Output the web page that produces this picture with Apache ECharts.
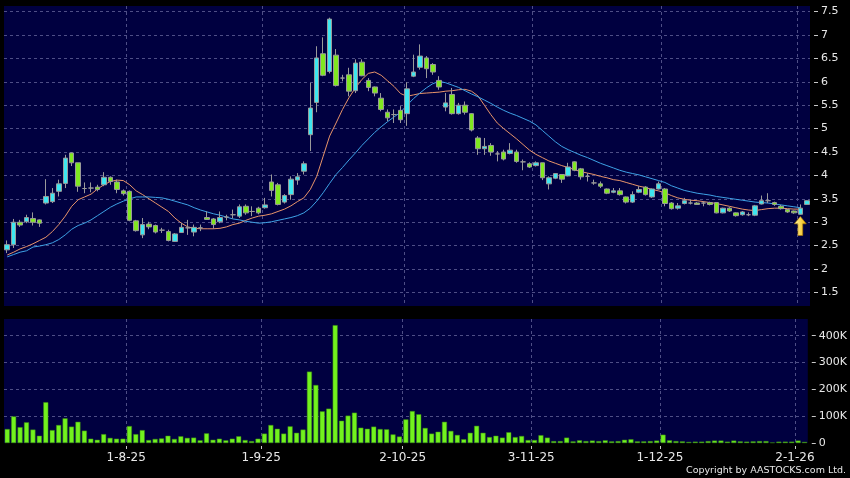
<!DOCTYPE html>
<html><head><meta charset="utf-8">
<script src="https://cdn.jsdelivr.net/npm/echarts@6/dist/echarts.min.js"></script>
<style>html,body{margin:0;padding:0;background:#000;}#c{width:850px;height:478px;}</style>
</head><body><div id="c"></div>
<script>
const dates = [
 '7-7-25','8-7-25','9-7-25','10-7-25','11-7-25','14-7-25','15-7-25','16-7-25','17-7-25','18-7-25','21-7-25','22-7-25','23-7-25','24-7-25','25-7-25','28-7-25','29-7-25','30-7-25','31-7-25',
 '1-8-25','4-8-25','5-8-25','6-8-25','7-8-25','8-8-25','11-8-25','12-8-25','13-8-25','14-8-25','15-8-25','18-8-25','19-8-25','20-8-25','21-8-25','22-8-25','25-8-25','26-8-25','27-8-25','28-8-25','29-8-25',
 '1-9-25','2-9-25','3-9-25','4-9-25','5-9-25','8-9-25','9-9-25','10-9-25','11-9-25','12-9-25','15-9-25','16-9-25','17-9-25','18-9-25','19-9-25','22-9-25','23-9-25','24-9-25','25-9-25','26-9-25','29-9-25','30-9-25',
 '2-10-25','3-10-25','6-10-25','8-10-25','9-10-25','10-10-25','13-10-25','14-10-25','15-10-25','16-10-25','17-10-25','20-10-25','21-10-25','22-10-25','23-10-25','24-10-25','27-10-25','28-10-25','30-10-25','31-10-25',
 '3-11-25','4-11-25','5-11-25','6-11-25','7-11-25','10-11-25','11-11-25','12-11-25','13-11-25','14-11-25','17-11-25','18-11-25','19-11-25','20-11-25','21-11-25','24-11-25','25-11-25','26-11-25','27-11-25','28-11-25',
 '1-12-25','2-12-25','3-12-25','4-12-25','5-12-25','8-12-25','9-12-25','10-12-25','11-12-25','12-12-25','15-12-25','16-12-25','17-12-25','18-12-25','19-12-25','22-12-25','23-12-25','24-12-25','29-12-25','30-12-25','31-12-25',
 '2-1-26','5-1-26'
];
const tickLabels = ['1-8-25','1-9-25','2-10-25','3-11-25','1-12-25','2-1-26'];

const opens = [
 2.41,2.52,3.00,3.01,3.08,3.05,3.41,3.44,3.66,3.83,
 4.48,4.27,3.72,3.73,3.75,3.80,3.96,3.86,3.67,3.66,
 3.03,2.73,2.96,2.93,2.83,2.80,2.59,2.78,2.88,2.79,
 2.88,3.10,3.07,3.01,3.11,3.16,3.13,3.34,3.23,3.30,
 3.31,3.86,3.80,3.43,3.59,3.90,4.09,4.87,5.56,6.60,
 6.22,6.57,6.08,6.15,5.81,6.42,6.03,5.89,5.65,5.35,
 5.30,5.39,5.32,6.12,6.31,6.51,6.37,6.03,5.46,5.73,5.32,
 5.50,5.32,4.80,4.57,4.64,4.46,4.50,4.47,4.50,4.29,
 4.25,4.21,4.27,3.82,3.94,4.02,3.99,4.29,4.14,3.98,
 3.84,3.82,3.71,3.64,3.67,3.54,3.43,3.64,3.75,3.54,
 3.71,3.71,3.41,3.30,3.40,3.41,3.41,3.41,3.42,3.42,
 3.20,3.30,3.20,3.16,3.16,3.15,3.39,3.46,3.42,3.34,
 3.27,3.24,3.17,3.38
];
const closes = [
 2.52,3.00,2.94,3.10,3.00,2.98,3.55,3.62,3.82,4.37,
 4.27,3.77,3.72,3.73,3.70,3.96,3.87,3.70,3.61,3.04,
 2.82,2.95,2.90,2.79,2.83,2.61,2.75,2.89,2.88,2.89,
 2.88,3.06,2.95,3.10,3.11,3.16,3.33,3.20,3.23,3.20,
 3.37,3.68,3.38,3.57,3.92,3.97,4.25,5.44,6.51,6.14,
 7.34,5.92,6.08,5.80,6.40,6.13,5.88,5.76,5.41,5.23,
 5.30,5.19,5.85,6.21,6.55,6.28,6.21,5.89,5.55,5.32,5.50,
 5.35,4.97,4.57,4.62,4.50,4.46,4.35,4.54,4.30,4.29,
 4.18,4.27,3.95,3.95,4.04,3.92,4.18,4.11,3.97,3.98,
 3.84,3.77,3.62,3.67,3.59,3.43,3.59,3.70,3.59,3.71,
 3.82,3.40,3.29,3.35,3.46,3.41,3.38,3.41,3.38,3.20,
 3.30,3.24,3.14,3.22,3.16,3.35,3.46,3.46,3.38,3.29,
 3.22,3.20,3.30,3.46
];
const lows = [
 2.34,2.45,2.90,2.98,2.93,2.90,3.38,3.41,3.55,3.73,
 4.20,3.65,3.62,3.64,3.66,3.77,3.80,3.62,3.57,3.02,
 2.80,2.66,2.85,2.76,2.77,2.59,2.58,2.77,2.73,2.70,
 2.81,3.05,2.86,2.98,3.04,3.08,3.09,3.16,3.13,3.17,
 3.29,3.55,3.36,3.40,3.48,3.80,4.02,4.52,5.35,6.12,
 6.18,5.90,6.01,5.69,5.76,6.12,5.80,5.69,5.37,5.16,
 5.12,5.12,5.06,6.10,6.26,6.08,6.15,5.83,5.37,5.30,5.30,
 5.30,4.94,4.44,4.44,4.42,4.30,4.32,4.45,4.27,4.11,
 4.16,4.19,3.90,3.70,3.92,3.84,3.98,4.09,3.91,3.87,
 3.80,3.73,3.60,3.62,3.57,3.40,3.41,3.62,3.57,3.52,
 3.70,3.34,3.27,3.27,3.38,3.38,3.37,3.34,3.36,3.19,
 3.19,3.22,3.12,3.14,3.13,3.13,3.38,3.41,3.35,3.27,
 3.20,3.18,3.16,3.37
];
const highs = [
 2.61,3.07,3.05,3.16,3.21,3.06,3.92,3.73,3.91,4.44,
 4.49,4.27,3.85,3.85,3.80,4.07,3.98,3.91,3.70,3.68,
 3.05,3.09,3.01,2.95,2.88,2.84,2.77,2.99,3.05,2.95,
 2.95,3.23,3.09,3.23,3.16,3.27,3.38,3.38,3.34,3.33,
 3.52,4.02,3.84,3.60,3.98,4.05,4.30,5.98,6.76,6.95,
 7.37,6.70,6.15,6.30,6.48,6.48,6.08,5.90,5.76,5.41,
 5.41,5.48,5.99,6.58,6.80,6.55,6.40,6.12,5.76,5.87,5.55,
 5.58,5.33,4.84,4.80,4.69,4.52,4.55,4.69,4.55,4.34,
 4.28,4.30,4.27,3.98,4.05,4.03,4.27,4.30,4.16,4.05,
 3.91,3.87,3.72,3.73,3.73,3.55,3.66,3.77,3.77,3.72,
 3.87,3.73,3.43,3.41,3.52,3.48,3.43,3.45,3.44,3.43,
 3.31,3.32,3.21,3.24,3.21,3.37,3.57,3.62,3.44,3.37,
 3.28,3.25,3.38,3.47
];
const ma10 = [
 2.30,2.36,2.43,2.48,2.54,2.61,2.68,2.80,2.95,3.13,
 3.34,3.48,3.54,3.60,3.71,3.80,3.87,3.90,3.89,3.80,
 3.67,3.59,3.50,3.41,3.32,3.23,3.09,2.98,2.90,2.87,
 2.86,2.86,2.86,2.87,2.90,2.95,2.98,3.04,3.09,3.13,
 3.15,3.18,3.23,3.28,3.35,3.44,3.52,3.70,3.98,4.41,
 4.84,5.12,5.41,5.66,5.87,6.05,6.18,6.21,6.14,6.02,
 5.90,5.75,5.69,5.72,5.75,5.76,5.77,5.78,5.80,5.81,5.83,
 5.84,5.80,5.70,5.50,5.30,5.12,5.00,4.89,4.78,4.66,
 4.54,4.45,4.38,4.31,4.26,4.21,4.17,4.12,4.08,4.05,
 4.02,3.98,3.95,3.91,3.89,3.85,3.81,3.77,3.74,3.70,
 3.67,3.63,3.57,3.52,3.49,3.47,3.46,3.44,3.42,3.40,
 3.37,3.34,3.31,3.28,3.26,3.25,3.27,3.29,3.30,3.30,
 3.29,3.28,3.28,'-'
];
const ma20 = [
 2.26,2.31,2.36,2.39,2.47,2.49,2.52,2.56,2.63,2.73,
 2.85,2.93,2.98,3.05,3.14,3.23,3.32,3.39,3.45,3.50,
 3.54,3.54,3.54,3.53,3.52,3.49,3.45,3.41,3.37,3.31,
 3.26,3.22,3.18,3.15,3.11,3.07,3.05,3.02,3.00,2.98,
 2.99,3.01,3.04,3.07,3.10,3.14,3.20,3.30,3.45,3.63,
 3.83,4.02,4.17,4.33,4.48,4.64,4.78,4.92,5.04,5.15,
 5.25,5.35,5.50,5.64,5.76,5.87,5.96,6.01,5.98,5.93,5.88,
 5.81,5.74,5.68,5.61,5.54,5.46,5.39,5.33,5.28,5.22,
 5.16,5.08,4.96,4.84,4.72,4.62,4.55,4.49,4.43,4.38,
 4.32,4.26,4.21,4.16,4.11,4.07,4.04,4.01,3.97,3.93,
 3.89,3.85,3.78,3.73,3.68,3.65,3.62,3.60,3.58,3.55,
 3.53,3.51,3.49,3.47,3.45,3.43,3.42,3.41,3.39,3.37,
 3.35,3.33,3.31,'-'
];
const volumeK = [
 52,99,59,77,50,27,152,48,67,92,
 61,79,46,16,12,33,19,16,16,63,
 33,48,11,15,17,27,15,25,19,20,
 10,36,12,16,10,16,25,11,7,16,
 35,67,53,35,62,38,50,266,216,118,
 128,439,83,102,113,57,53,61,52,51,
 32,24,88,119,107,56,35,42,79,45,30,
 14,38,64,38,22,27,20,40,22,26,
 11,11,29,20,7,7,20,6,10,7,
 9,7,10,6,7,12,14,6,6,7,
 9,31,10,7,6,4,5,5,7,9,
 9,5,9,6,5,6,7,7,2,5,
 5,5,9,4
];
const arrowAt = ['2-1-26', 2.92];

const tickSet = new Set(tickLabels);
const boundaries = dates.concat(['']);
const ohlc = dates.map((d, i) => [opens[i], closes[i], lows[i], highs[i]]);
const gridColor = '#4e4e86';
const textColor = '#e8e8e8';
const font = 'DejaVu Sans';
const pick = (i) => tickSet.has(boundaries[i]);
const splitLineX = {show: true, interval: pick, lineStyle: {color: gridColor, type: [3, 3], width: 1}};
const splitLineY = {show: true, showMinLine: false, showMaxLine: false, lineStyle: {color: gridColor, type: [3, 3], width: 1}};
const hiddenCat = {axisLine: {show: false}, axisTick: {show: false}, axisLabel: {show: false}, splitLine: {show: false}};

const chart = echarts.init(document.getElementById('c'));
chart.setOption({
  animation: false,
  backgroundColor: '#000000',
  grid: [
    {left: 4, top: 6, width: 806, height: 300, show: true, backgroundColor: '#000040', borderWidth: 0},
    {left: 4, top: 319, width: 806, height: 124, show: true, backgroundColor: '#000040', borderWidth: 0}
  ],
  xAxis: [
    Object.assign({type: 'category', gridIndex: 0, data: dates, boundaryGap: true}, hiddenCat),
    Object.assign({type: 'category', gridIndex: 1, data: dates, boundaryGap: true}, hiddenCat),
    {type: 'category', gridIndex: 0, data: boundaries, boundaryGap: false,
     axisLine: {show: false}, axisTick: {show: false}, axisLabel: {show: false}, splitLine: splitLineX},
    {type: 'category', gridIndex: 1, data: boundaries, boundaryGap: false, offset: 3, position: 'bottom',
     axisLine: {show: false},
     axisTick: {show: true, interval: pick, length: 3, lineStyle: {color: '#c8c8c8'}},
     axisLabel: {interval: pick, color: textColor, fontFamily: font, fontSize: 12, margin: 6},
     splitLine: splitLineX}
  ],
  yAxis: [
    {type: 'value', gridIndex: 0, position: 'right', min: 1.21, max: 7.62, minInterval: 0.5, maxInterval: 0.5, offset: 4,
     axisLine: {show: false}, axisTick: {show: true, length: 4, lineStyle: {color: '#c8c8c8'}},
     axisLabel: {color: textColor, fontFamily: font, fontSize: 11, margin: 7, showMinLabel: false, showMaxLabel: false},
     splitLine: splitLineY},
    {type: 'value', gridIndex: 1, position: 'right', min: 0, max: 462, minInterval: 100, maxInterval: 100, offset: 4,
     axisLine: {show: false}, axisTick: {show: true, length: 4, lineStyle: {color: '#c8c8c8'}},
     axisLabel: {color: textColor, fontFamily: font, fontSize: 11, margin: 7, showMinLabel: true, showMaxLabel: false,
                 formatter: v => v === 0 ? '0' : v + 'K'},
     splitLine: splitLineY}
  ],
  graphic: [
    {type: 'text', right: 4, bottom: 2, style: {text: 'Copyright by AASTOCKS.com Ltd.', fill: textColor, font: '9.5px "DejaVu Sans"'}}
  ],
  series: [
    {name: 'MA10', type: 'line', xAxisIndex: 0, yAxisIndex: 0, data: ma10, showSymbol: false, z: 2,
     lineStyle: {color: '#e8946a', width: 1}},
    {name: 'MA20', type: 'line', xAxisIndex: 0, yAxisIndex: 0, data: ma20, showSymbol: false, z: 2,
     lineStyle: {color: '#3ea2e6', width: 1}},
    {name: 'Price', type: 'candlestick', xAxisIndex: 0, yAxisIndex: 0, data: ohlc, barWidth: 5, z: 3,
     itemStyle: {color: '#3de6f0', color0: '#80e820', borderColor: '#9a9a9a', borderColor0: '#9a9a9a', borderColorDoji: '#9a9a9a', borderWidth: 1},
     markPoint: {silent: true, symbol: 'path://M5,0L10,7L7,7L7,18L3,18L3,7L0,7Z', symbolSize: [12, 19], label: {show: false},
       itemStyle: {color: new echarts.graphic.LinearGradient(0, 0, 1, 0, [{offset: 0, color: '#fff6a8'}, {offset: 1, color: '#f2b400'}]), borderColor: '#a87400', borderWidth: 0.6},
       data: [{coord: arrowAt}]}},
    {name: 'Volume', type: 'bar', xAxisIndex: 1, yAxisIndex: 1, data: volumeK, barWidth: 5,
     itemStyle: {color: '#72f21e', borderColor: '#3a8a12', borderWidth: 0.5}}
  ]
});
</script>
</body></html>
